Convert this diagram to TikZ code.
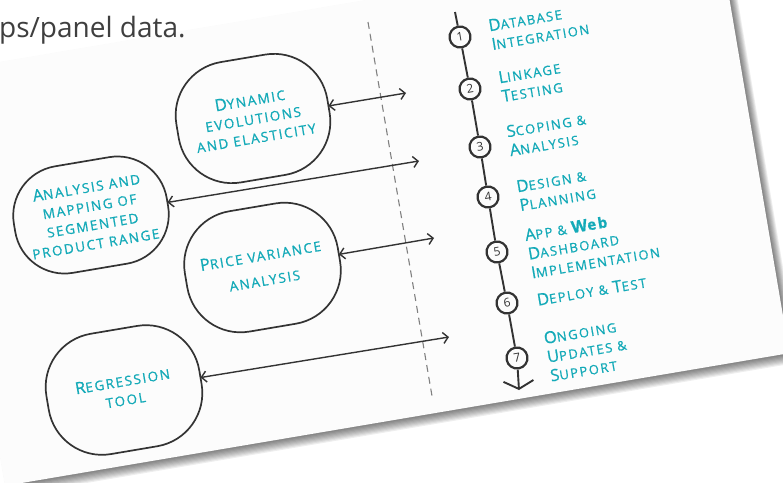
\documentclass[tikz,border=0pt]{standalone}
\usepackage{fontspec}
\usetikzlibrary{arrows.meta}
\newfontfamily\handfont{Open Sans}[LetterSpace=12, FakeBold=0.8]
\newfontfamily\bodyfont{Open Sans}
\definecolor{ink}{HTML}{333333}
\definecolor{tealtext}{HTML}{14AAB8}
\definecolor{sheet}{HTML}{FCFCFC}
\definecolor{dashgray}{HTML}{808080}
\definecolor{prosegray}{HTML}{3F3F3F}
% larger capital for the hand-set small caps
\newcommand\Cap[1]{{\fontsize{16.5}{19}\selectfont #1}}

\begin{document}
\begin{tikzpicture}[x=1pt,y=-1pt,
  label text/.style={font=\handfont\fontsize{13}{19}\selectfont, text=tealtext, rotate=9.6},
  blob/.style={label text, font=\handfont\fontsize{13.5}{19}\selectfont, draw=ink, line width=1.7pt,
    rounded corners=54pt, minimum width=153pt, minimum height=122pt, align=center,
    inner sep=0pt, outer sep=0pt},
  stage/.style={label text, anchor=west, align=left, inner sep=0pt},
  stop/.style={circle, draw=ink, line width=2.2pt, fill=sheet, minimum size=21pt,
    inner sep=0pt, rotate=9.6, font=\bodyfont\fontsize{12}{12}\selectfont, text=ink},
  link/.style={draw=ink, line width=1.4pt,
    arrows={Straight Barb[length=5pt,width=11pt]-Straight Barb[length=5pt,width=11pt]}},
  spine/.style={draw=ink, line width=1.9pt},
  divider/.style={draw=dashgray, line width=1.1pt, dash pattern=on 7pt off 5pt}
]
\useasboundingbox (0,0) rectangle (783,482);
\fill[white] (0,0) rectangle (783,482);

% tilted sheet with its soft shadow
\begin{scope}[rotate around={9.6:(400,240)}]
  \foreach \k in {1,...,9}
    \fill[black, opacity=0.065] ({-30.5+0.3*\k},{-2.3+0.4*\k}) rectangle ({765+0.9*\k},{416.5+1.2*\k});
  \fill[sheet] (-30.5,-2.3) rectangle (765,416.5);
\end{scope}

% running text of the page above
\node[anchor=base west, inner sep=0pt, text=prosegray,
  font=\bodyfont\fontsize{28}{30}\selectfont] (prose) at (-1,37) {ps/panel data.};

% dashed divider
\coordinate (d0) at (368,22);
\coordinate (d1) at (432,396);
\draw[divider] (d0) -- (d1);

% topic bubbles
\node[blob] (A) at (253,118.5) {\Cap{D}YNAMIC\\EVOLUTIONS\\AND ELASTICITY};
\node[blob, minimum width=155pt, minimum height=108pt, rounded corners=50pt] (B) at (91,215)
  {\Cap{A}NALYSIS AND\\MAPPING OF\\SEGMENTED\\PRODUCT RANGE};
\node[blob, minimum width=155pt] (C) at (262.5,267.5) {\Cap{P}RICE VARIANCE\\[6pt]ANALYSIS};
\node[blob, minimum width=155pt] (D) at (124,390) {\Cap{R}EGRESSION\\TOOL};

% links across the divider
\coordinate (a1) at (406,93);
\coordinate (a2) at (419,161);
\coordinate (a3) at (434,238);
\coordinate (a4) at (449,337);
\draw[link] (A) -- (a1);
\draw[link] (B) -- (a2);
\draw[link] (C) -- (a3);
\draw[link] (D) -- (a4);

% process timeline
\coordinate (t0) at (455,12);
\coordinate (t1) at (519,390);
\node[stop] (n1) at (460,37) {1};
\node[stop] (n2) at (470,89) {2};
\node[stop] (n3) at (480,147) {3};
\node[stop] (n4) at (488,197) {4};
\node[stop] (n5) at (497,252) {5};
\node[stop] (n6) at (507,303) {6};
\node[stop] (n7) at (517,358) {7};
\draw[spine] (t0) -- (n1) (n1) -- (n2) (n2) -- (n3) (n3) -- (n4) (n4) -- (n5) (n5) -- (n6) (n6) -- (n7);
\draw[spine, -{Straight Barb[length=8pt,width=30pt]}] (n7) -- (t1);

% stage labels
\node[stage] (s1) at (490,35) {\Cap{D}ATABASE\\\Cap{I}NTEGRATION};
\node[stage] (s2) at (500,87) {\Cap{L}INKAGE\\\Cap{T}ESTING};
\node[stage] (s3) at (508,141) {\Cap{S}COPING \&\\\Cap{A}NALYSIS};
\node[stage] (s4) at (518,196) {\Cap{D}ESIGN \&\\\Cap{P}LANNING};
\node[stage] (s5) at (528,254) {\Cap{A}PP \& {\bfseries\Cap{W}{\fontsize{15}{19}\selectfont eb}}\\\Cap{D}ASHBOARD\\\Cap{I}MPLEMENTATION};
\node[stage] (s6) at (537,300) {\Cap{D}EPLOY \& \Cap{T}EST};
\node[stage] (s7) at (547,357) {\Cap{O}NGOING\\\Cap{U}PDATES \&\\\Cap{S}UPPORT};
\end{tikzpicture}
\end{document}
